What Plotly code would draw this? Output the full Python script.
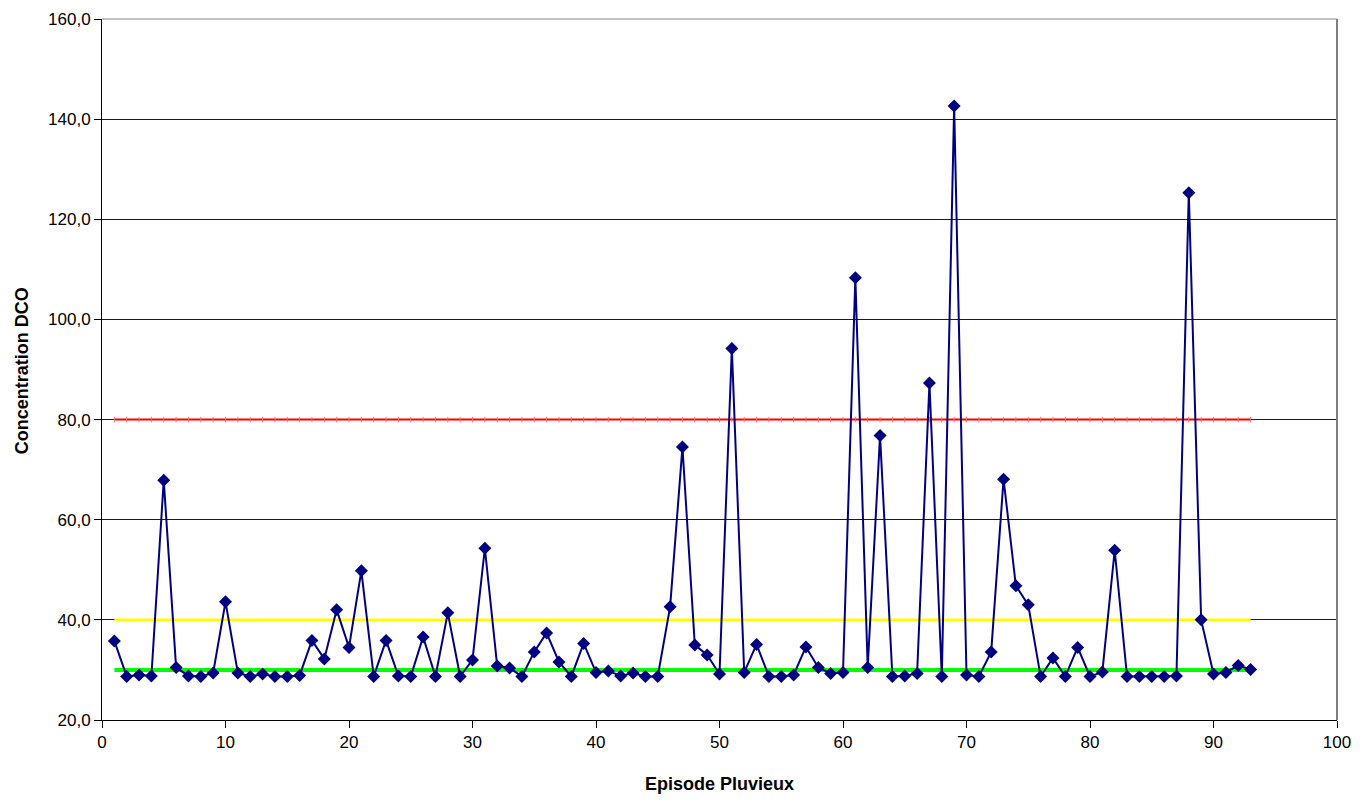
import plotly.graph_objects as go

episodes = list(range(1, 94))
dco = [35.8, 28.7, 29.0, 28.8, 67.9, 30.5, 28.8, 28.7, 29.4, 43.6,
       29.4, 28.7, 29.2, 28.7, 28.7, 28.9, 35.9, 32.2, 42.0, 34.5,
       49.8, 28.7, 35.9, 28.8, 28.7, 36.6, 28.7, 41.4, 28.7, 32.0,
       54.3, 30.8, 30.4, 28.7, 33.6, 37.4, 31.6, 28.7, 35.3, 29.5,
       29.8, 28.8, 29.4, 28.7, 28.7, 42.6, 74.5, 35.0, 33.0, 29.2,
       94.2, 29.5, 35.1, 28.7, 28.7, 29.0, 34.6, 30.5, 29.3, 29.5,
       108.3, 30.5, 76.8, 28.7, 28.8, 29.3, 87.3, 28.7, 142.6, 29.0,
       28.7, 33.6, 68.1, 46.8, 43.0, 28.7, 32.4, 28.7, 34.5, 28.7,
       29.6, 53.9, 28.7, 28.7, 28.7, 28.7, 28.8, 125.3, 40.0, 29.2,
       29.5, 30.9, 30.1]

seuil_rouge = 80.0
seuil_jaune = 40.0
seuil_vert = 30.0

x_title = "Episode Pluvieux"
y_title = "Concentration DCO"

FONT = "Liberation Sans, Arial, sans-serif"

fig = go.Figure()
fig.add_trace(go.Scatter(x=episodes, y=[seuil_rouge] * len(episodes), mode="lines+markers",
                         line=dict(color="#ff0000", width=2),
                         marker=dict(symbol="line-ns", size=4, color="#ff7070",
                                     line=dict(color="#ff7070", width=1)),
                         showlegend=False))
fig.add_trace(go.Scatter(x=[episodes[0], episodes[-1]], y=[seuil_jaune] * 2, mode="lines",
                         line=dict(color="#ffff00", width=2.5), showlegend=False))
fig.add_trace(go.Scatter(x=[episodes[0], episodes[-1]], y=[seuil_vert] * 2, mode="lines",
                         line=dict(color="#00ff00", width=4), showlegend=False))
fig.add_trace(go.Scatter(x=episodes, y=dco, mode="lines+markers",
                         line=dict(color="#000080", width=2),
                         marker=dict(symbol="diamond", size=10, color="#000080"),
                         showlegend=False))

fig.update_layout(
    width=1352, height=793,
    margin=dict(l=94, r=23, t=11, b=81),
    paper_bgcolor="white", plot_bgcolor="white",
    separators=",.",
    font=dict(family=FONT, size=18, color="black"),
    xaxis=dict(range=[0, 100], dtick=10, tick0=0, showgrid=False, zeroline=False,
               showline=True, linecolor="black", linewidth=1, automargin=False,
               ticks="outside", ticklen=7, tickcolor="black",
               ticklabeloverflow="allow",
               tickfont=dict(family=FONT, size=17)),
    yaxis=dict(range=[20, 160], dtick=20, tick0=20, tickformat=".1f",
               showgrid=True, gridcolor="#1a1a1a", gridwidth=1, zeroline=False,
               showline=True, linecolor="black", linewidth=1, automargin=False,
               ticks="outside", ticklen=7, tickcolor="black",
               ticklabeloverflow="allow",
               tickfont=dict(family=FONT, size=17)),
    shapes=[
        dict(type="line", xref="paper", yref="paper", x0=0, x1=1, y0=1, y1=1,
             line=dict(color="#808080", width=1)),
        dict(type="line", xref="paper", yref="paper", x0=1, x1=1, y0=0, y1=1,
             line=dict(color="#808080", width=2)),
    ],
    annotations=[
        dict(text="<b>" + x_title + "</b>", xref="paper", yref="paper",
             x=0.5004, y=-0.0907, xanchor="center", yanchor="middle", showarrow=False,
             font=dict(family=FONT, size=18)),
        dict(text="<b>" + y_title + "</b>", xref="paper", yref="paper",
             x=-0.0648, y=0.499, xanchor="center", yanchor="middle", showarrow=False,
             textangle=-90,
             font=dict(family=FONT, size=18)),
    ],
)

fig.write_html("out.html")
